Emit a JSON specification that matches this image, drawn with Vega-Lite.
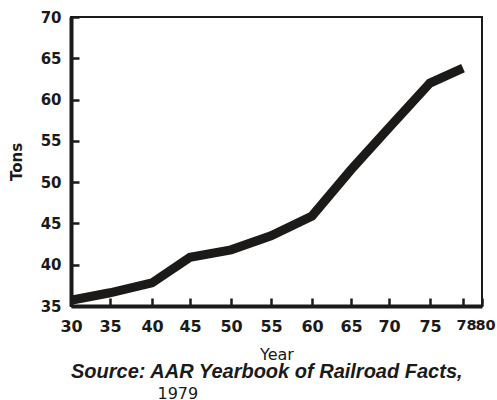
{
  "$schema": "https://vega.github.io/schema/vega-lite/v6.json",
  "width": 411,
  "height": 289,
  "autosize": "none",
  "padding": {"left": 71, "top": 17, "right": 15, "bottom": 94},
  "background": "white",
  "config": {
    "view": {"stroke": "#1a1a1a", "strokeWidth": 2},
    "axis": {"grid": false, "ticks": true, "domainColor": "#1a1a1a", "domainWidth": 4, "tickColor": "#1a1a1a", "tickWidth": 2.5, "labelColor": "#1a1a1a", "titleColor": "#1a1a1a"}
  },
  "title": {
    "text": "Source: AAR Yearbook of Railroad Facts,",
    "subtitle": "\u2060\u00a0\u00a0\u00a0\u00a0\u00a0\u00a0\u00a0\u00a0\u00a0\u00a0\u00a0\u00a0\u00a0\u00a0\u00a0\u00a0\u00a01979",
    "orient": "bottom",
    "anchor": "start",
    "frame": "group",
    "font": "Liberation Sans",
    "fontSize": 20,
    "fontWeight": "bold",
    "fontStyle": "italic",
    "color": "#1a1a1a",
    "offset": 0,
    "subtitleFont": "DejaVu Sans",
    "subtitleFontSize": 16,
    "subtitleFontWeight": "normal",
    "subtitleColor": "#1a1a1a",
    "subtitlePadding": 4
  },
  "data": {
    "values": [
      {"year": 30, "tons": 35.7},
      {"year": 35, "tons": 36.6},
      {"year": 40, "tons": 37.8},
      {"year": 45, "tons": 40.9},
      {"year": 50, "tons": 41.8},
      {"year": 55, "tons": 43.5},
      {"year": 60, "tons": 45.9},
      {"year": 65, "tons": 51.5},
      {"year": 70, "tons": 56.6},
      {"year": 75, "tons": 62.0},
      {"year": 78, "tons": 63.8}
    ]
  },
  "mark": {"type": "line", "strokeWidth": 9, "color": "#1b1a18", "strokeCap": "butt", "strokeJoin": "miter"},
  "encoding": {
    "x": {
      "field": "year",
      "type": "quantitative",
      "scale": {
        "domain": [30, 35, 40, 45, 50, 55, 60, 65, 70, 75, 78, 80],
        "range": [0, 39, 81, 119, 160, 200, 241, 280, 318, 359, 392, 411],
        "zero": false,
        "nice": false
      },
      "axis": {
        "title": "Year",
        "values": [30, 35, 40, 45, 50, 55, 60, 65, 70, 75, 78, 80],
        "tickSize": -8,
        "labelFont": "DejaVu Sans",
        "labelFontSize": {"condition": {"test": "datum.value >= 78", "value": 14.5}, "value": 16},
        "labelOffset": {"condition": {"test": "datum.value >= 78", "value": 3}, "value": 0},
        "labelFontWeight": "bold",
        "labelPadding": 20,
        "labelOverlap": false,
        "labelFlush": false,
        "titleFont": "DejaVu Sans",
        "titleFontSize": 16,
        "titleFontWeight": "normal",
        "titlePadding": 12
      }
    },
    "y": {
      "field": "tons",
      "type": "quantitative",
      "scale": {"domain": [35, 70], "zero": false, "nice": false},
      "axis": {
        "title": "Tons",
        "values": [35, 40, 45, 50, 55, 60, 65, 70],
        "tickSize": -8,
        "labelFont": "DejaVu Sans",
        "labelFontSize": 15,
        "labelFontWeight": "bold",
        "labelPadding": 18,
        "labelFlush": false,
        "titleFont": "DejaVu Sans",
        "titleFontSize": 15,
        "titleFontWeight": "bold",
        "titlePadding": 16
      }
    }
  }
}
